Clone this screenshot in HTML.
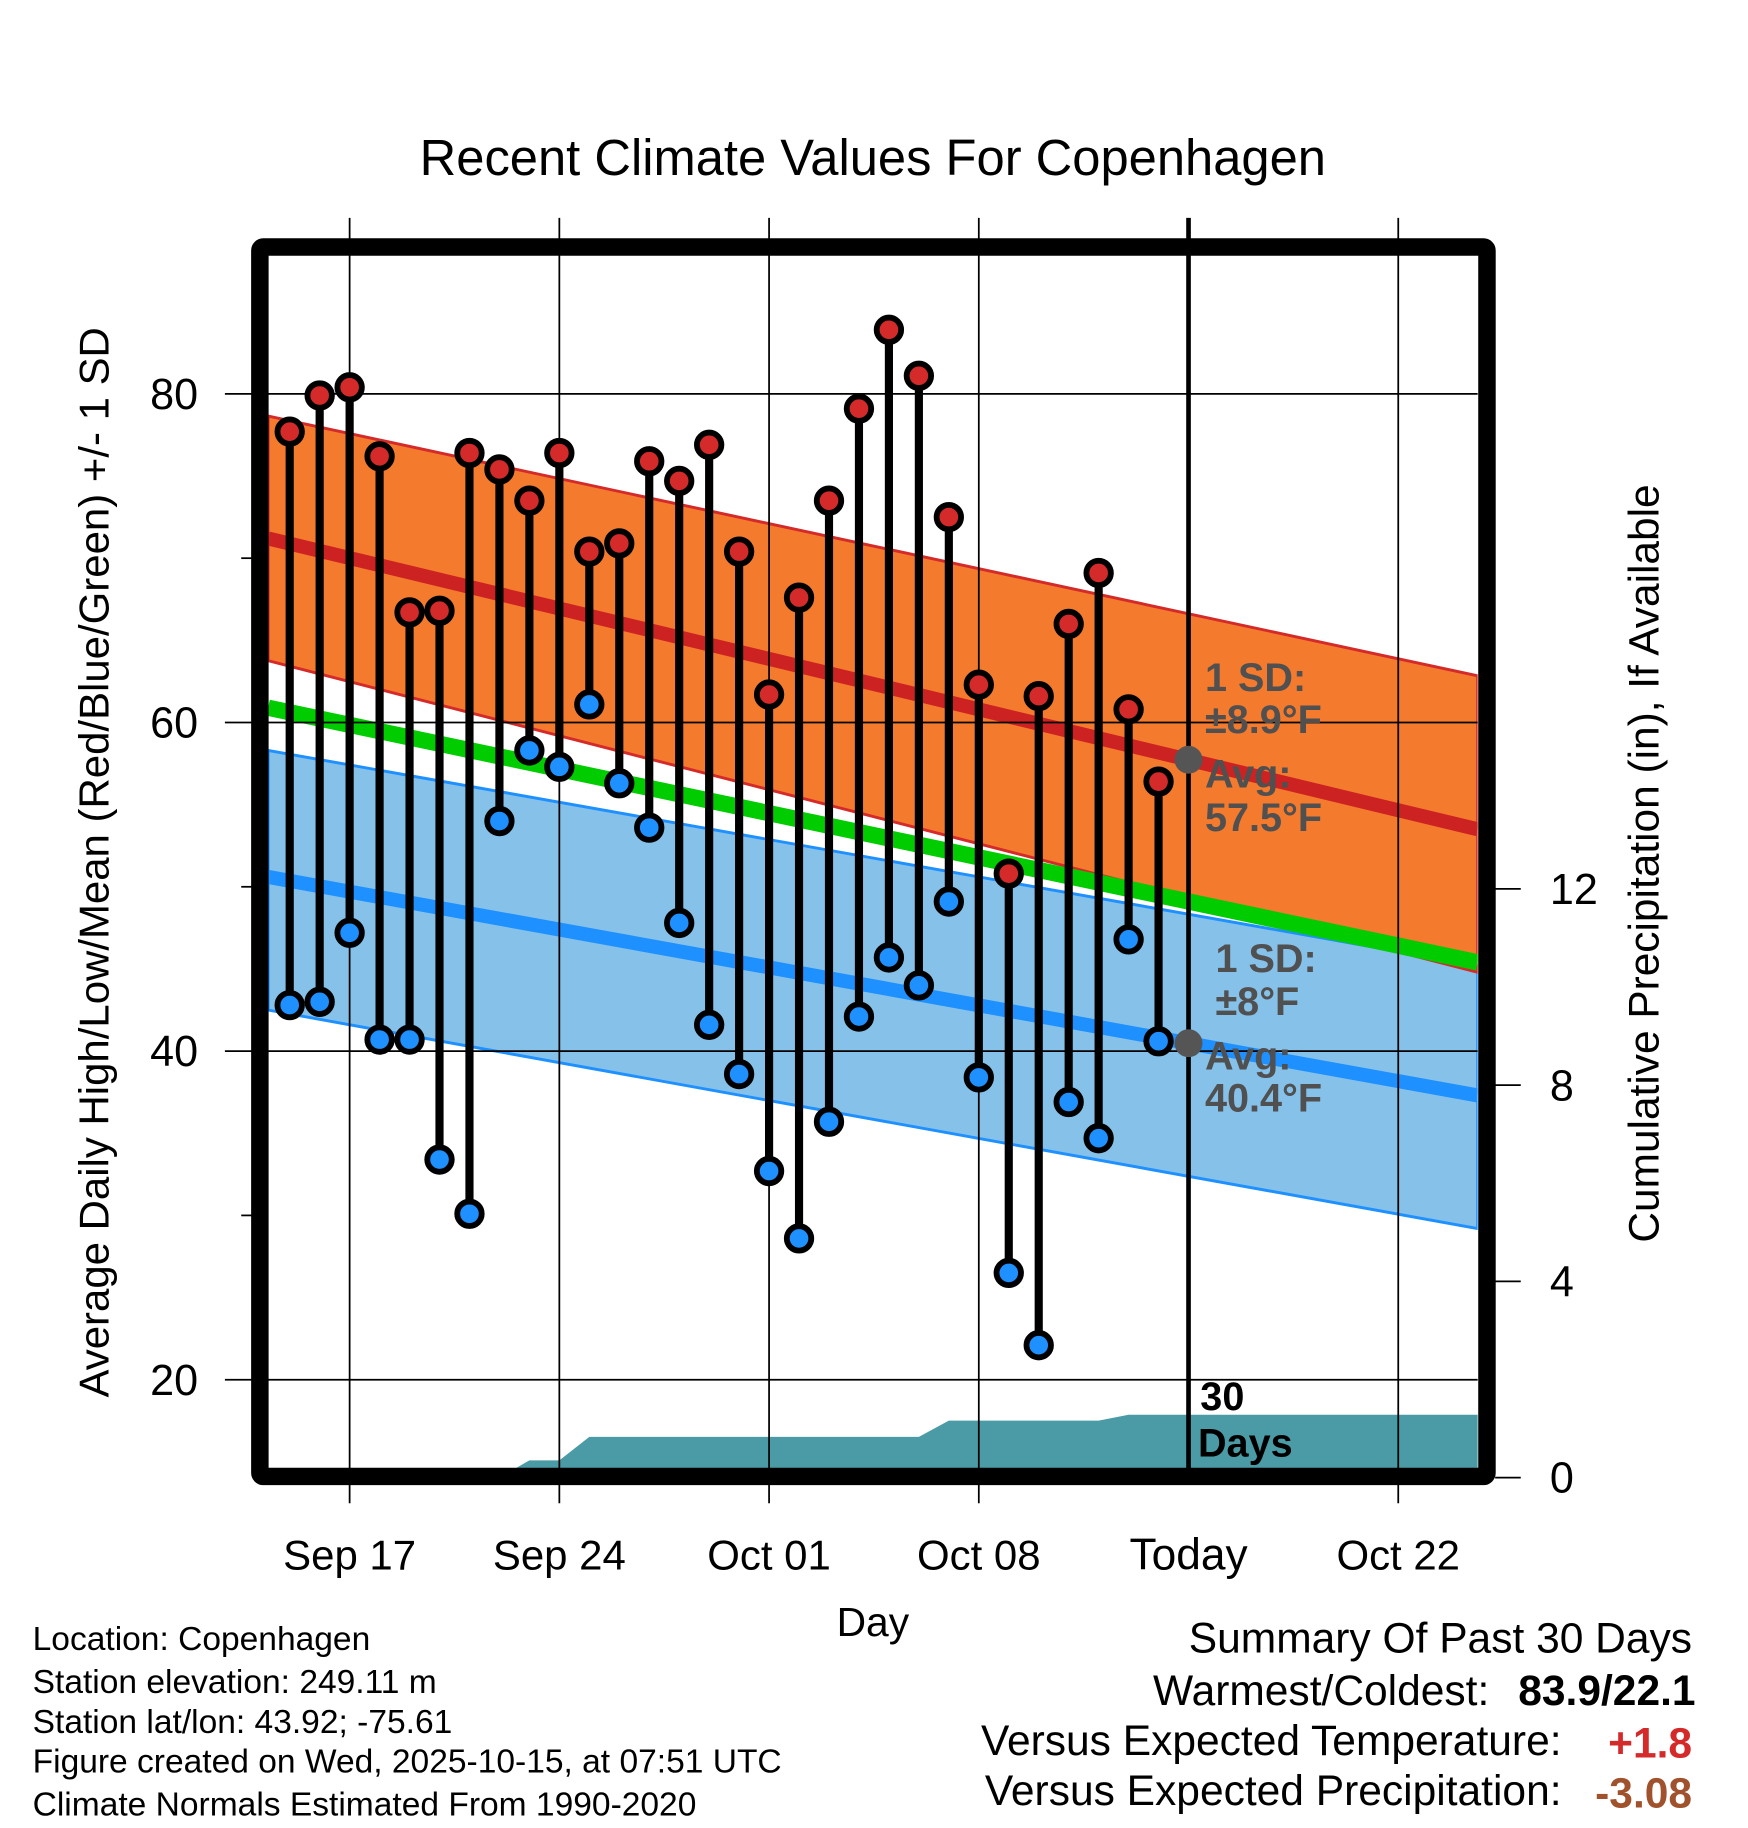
<!DOCTYPE html>
<html><head><meta charset="utf-8"><style>
html,body{margin:0;padding:0;background:#fff}
svg{display:block}
text{font-family:"Liberation Sans",Arial,sans-serif}
</style></head><body>
<svg id="chart" width="1748" height="1828" viewBox="0 0 1500 1568.7" preserveAspectRatio="none" xmlns="http://www.w3.org/2000/svg">
<text x="749" y="150" font-size="43.5" text-anchor="middle">Recent Climate Values For Copenhagen</text>
<g id="plot"></g>
<text transform="translate(93,740) rotate(-90)" font-size="36" text-anchor="middle">Average Daily High/Low/Mean (Red/Blue/Green) +/- 1 SD</text>
<text transform="translate(1423,741) rotate(-90)" font-size="36.4" text-anchor="middle">Cumulative Precipitation (in), If Available</text>
<text x="749" y="1404" font-size="35" text-anchor="middle">Day</text>
<g font-size="28.8">
<text x="28" y="1416">Location: Copenhagen</text>
<text x="28" y="1453">Station elevation: 249.11 m</text>
<text x="28" y="1487">Station lat/lon: 43.92; -75.61</text>
<text x="28" y="1521">Figure created on Wed, 2025-10-15, at 07:51 UTC</text>
<text x="28" y="1558">Climate Normals Estimated From 1990-2020</text>
</g>
<g font-size="36.5">
<text x="1452" y="1418" text-anchor="end">Summary Of Past 30 Days</text>
<text x="1278" y="1463" text-anchor="end">Warmest/Coldest:</text>
<text x="1455" y="1463" text-anchor="end" font-weight="bold">83.9/22.1</text>
<text x="1340" y="1506" text-anchor="end">Versus Expected Temperature:</text>
<text x="1452" y="1508" text-anchor="end" font-weight="bold" fill="#d42a2a">+1.8</text>
<text x="1340" y="1549" text-anchor="end">Versus Expected Precipitation:</text>
<text x="1452" y="1551" text-anchor="end" font-weight="bold" fill="#a0522d">-3.08</text>
</g>
</svg>
<script>
const highs=[77.7,79.9,80.4,76.2,66.7,66.8,76.4,75.4,73.5,76.4,70.4,70.9,75.9,74.7,76.9,70.4,61.7,67.6,73.5,79.1,83.9,81.1,72.5,62.3,50.8,61.6,66.0,69.1,60.8,56.4];
const lows=[42.8,43.0,47.2,40.7,40.7,33.4,30.1,54.0,58.3,57.3,61.1,56.3,53.6,47.8,41.6,38.6,32.7,28.6,35.7,42.1,45.7,44.0,49.1,38.4,26.5,22.1,36.9,34.7,46.8,40.6];
const precip=[0,0,0,0,0,0,0,0,0.35,0.35,0.83,0.83,0.83,0.83,0.83,0.83,0.83,0.83,0.83,0.83,0.83,0.83,1.16,1.16,1.16,1.16,1.16,1.16,1.28,1.28];
const normDays=[-0.72,39.65];
const normHigh=[71.2,53.5];
const normHighUpper=[78.65,62.84];
const normHighLower=[63.76,44.8];
const normLow=[50.6,37.3];
const normLowUpper=[58.3,45.2];
const normLowLower=[42.5,29.2];
const xTickDays=[2,9,16,23,30,37];
const xTickLabels=["Sep 17","Sep 24","Oct 01","Oct 08","Today","Oct 22"];
const yTicks=[20,40,60,80];
const yMinor=[30,50,70];
const pTicks=[0,4,8,12];

const L=230,R=1268,T=220,B=1260;
const X=d=>248.6+25.71*d;
const Y=v=>1184-(v-20)*14.1;
const P=v=>1268-v*42.1;
const ns="http://www.w3.org/2000/svg";
const g=document.getElementById('plot');
function mk(tag,attrs,parent){const e=document.createElementNS(ns,tag);for(const k in attrs)e.setAttribute(k,attrs[k]);(parent||g).appendChild(e);return e;}

const defs=mk('defs',{});
const cp=mk('clipPath',{id:'clip'},defs);mk('rect',{x:L,y:T,width:R-L,height:B-T},cp);
const cg=mk('g',{'clip-path':'url(#clip)'});



function band(up,lo){
  const a=normDays.map((d,i)=>[X(d),Y(up[i])]);
  const b=normDays.map((d,i)=>[X(d),Y(lo[i])]).reverse();
  return a.concat(b).map(p=>p.join(',')).join(' ');
}
function line(means){return normDays.map((d,i)=>X(d)+','+Y(means[i])).join(' ');}
let e=mk('polygon',{points:band(normLowUpper,normLowLower),fill:'#85c1e9',stroke:'#1e90ff','stroke-width':2.5},cg);


e=mk('polyline',{points:line(normLow),fill:'none',stroke:'#1e90ff','stroke-width':12},cg);


e=mk('polygon',{points:band(normHighUpper,normHighLower),fill:'#f47a2e',stroke:'#d42a2a','stroke-width':2.5},cg);


e=mk('polyline',{points:line(normHigh),fill:'none',stroke:'#cc2222','stroke-width':12},cg);


const meanN=normHigh.map((h,i)=>(h+normLow[i])/2);
e=mk('polyline',{points:line(meanN),fill:'none',stroke:'#00cc00','stroke-width':14},cg);


let pts=[[X(0),1300]];precip.forEach((v,i)=>pts.push([X(i),P(v)]));
pts.push([R+5,P(precip[precip.length-1])]);pts.push([R+5,1300]);
e=mk('polygon',{points:pts.map(p=>p.join(',')).join(' '),fill:'#4a9ba5'},cg);



yTicks.forEach(v=>{
  const l=mk('line',{x1:193,x2:R,y1:Y(v),y2:Y(v),stroke:'#000','stroke-width':1.5});
  
  
  const t=mk('text',{x:170,y:Y(v)+13,'font-size':37,'text-anchor':'end'});t.textContent=v;
  
  
});
yMinor.forEach(v=>{const l=mk('line',{x1:207,x2:218,y1:Y(v),y2:Y(v),stroke:'#000','stroke-width':1.5});
  
  });
xTickDays.forEach((d,i)=>{
  const today=xTickLabels[i]==='Today';
  const l=mk('line',{x1:X(d),x2:X(d),y1:187,y2:today?1262:1290,stroke:'#000','stroke-width':today?4:1.5});
  
  
  const t=mk('text',{x:X(d),y:1347,'font-size':36,'text-anchor':'middle'});t.textContent=xTickLabels[i];
  if(today)t.setAttribute('font-size','38');
  
  
});
pTicks.forEach(v=>{
  const l=mk('line',{x1:1283,x2:1305,y1:P(v),y2:P(v),stroke:'#000','stroke-width':1.5});
  
  
  const t=mk('text',{x:1330,y:P(v)+13,'font-size':37,'text-anchor':'start'});t.textContent=v;
  
  
});

highs.forEach((h,i)=>{
  const x=X(i);
  const s=mk('line',{x1:x,x2:x,y1:Y(h),y2:Y(lows[i]),stroke:'#000','stroke-width':7});
  
  
  const ch=mk('circle',{cx:x,cy:Y(h),r:10.5,fill:'#d42a2a',stroke:'#000','stroke-width':5});
  
  
  const cl=mk('circle',{cx:x,cy:Y(lows[i]),r:10.5,fill:'#1e90ff',stroke:'#000','stroke-width':5});
  
  
});

const todayX=X(30);
const f=(30-normDays[0])/(normDays[1]-normDays[0]);
const hToday=normHigh[0]+(normHigh[1]-normHigh[0])*f;
const lToday=normLow[0]+(normLow[1]-normLow[0])*f;
e=mk('circle',{cx:todayX,cy:Y(hToday),r:12,fill:'#555'});


e=mk('circle',{cx:todayX,cy:Y(lToday),r:12,fill:'#555'});


function ann(x,y,txt,name,col,size){const t=mk('text',{x:x,y:y,'font-size':size||34,'font-weight':'bold',fill:col||'#505050'});t.textContent=txt;
  
  return t;}
ann(1034,593,'1 SD:','high-sd-label');
ann(1034,629,'±8.9°F','high-sd-value');
ann(1034,676,'Avg:','high-avg-label');
ann(1034,713,'57.5°F','high-avg-value');
ann(1043,834,'1 SD:','low-sd-label');
ann(1043,871,'±8°F','low-sd-value');
ann(1034,918,'Avg:','low-avg-label');
ann(1034,954,'40.4°F','low-avg-value');
ann(1030,1210,'30','days-count','#000');
ann(1028,1250,'Days','days-label','#000');

e=mk('rect',{x:223,y:212,width:1053,height:1055,fill:'none',stroke:'#000','stroke-width':15,rx:3});


</script>
</body></html>
